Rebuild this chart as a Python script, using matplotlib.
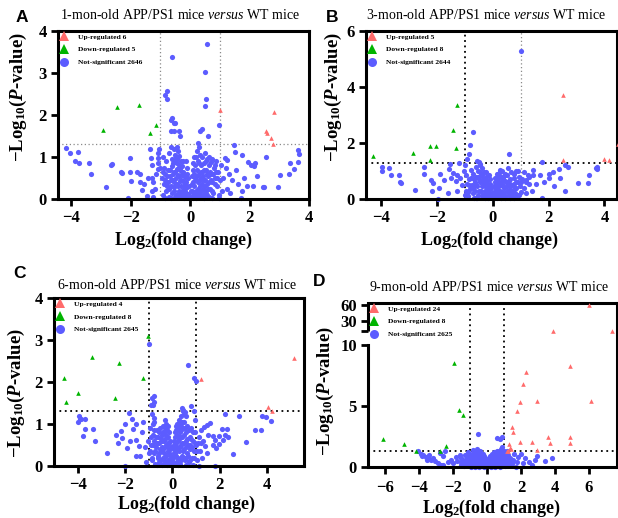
import numpy as np
import matplotlib.pyplot as plt
from matplotlib.lines import Line2D

plt.rcParams['font.family'] = ['Liberation Serif', 'DejaVu Serif']
plt.rcParams['font.weight'] = 'bold'
plt.rcParams['mathtext.fontset'] = 'custom'
plt.rcParams['mathtext.rm'] = 'Liberation Serif:weight=bold'
plt.rcParams['mathtext.it'] = 'Liberation Serif:style=italic:weight=bold'
plt.rcParams['mathtext.bf'] = 'Liberation Serif:weight=bold'
plt.rcParams['mathtext.sf'] = 'Liberation Serif:style=italic:weight=normal'

BLUE = '#5c5cff'
RED = '#ff6b6b'
GREEN = '#00b400'

# ---- data (log2 fold change, -log10 p) ----
titles = ['1-mon-old APP/PS1 mice $\\mathsf{versus}$ WT mice',
          '3-mon-old APP/PS1 mice $\\mathsf{versus}$ WT mice',
          '6-mon-old APP/PS1 mice $\\mathsf{versus}$ WT mice',
          '9-mon-old APP/PS1 mice $\\mathsf{versus}$ WT mice']
letters = ['A', 'B', 'C', 'D']
legend_a = ['Up-regulated 6', 'Down-regulated 5', 'Not-significant 2646']
legend_b = ['Up-regulated 5', 'Down-regulated 8', 'Not-significant 2644']
legend_c = ['Up-regulated 4', 'Down-regulated 8', 'Not-significant 2645']
legend_d = ['Up-regulated 24', 'Down-regulated 8', 'Not-significant 2625']

up_a = [(1.0, 2.11), (2.82, 2.08), (2.55, 1.62), (2.57, 1.58), (2.73, 1.45), (2.80, 1.31)]
down_a = [(-2.48, 2.18), (-1.73, 2.24), (-2.94, 1.65), (-1.16, 1.76), (-1.35, 1.58)]
ns_a = [
    (0.58, 3.69), (-0.62, 3.39), (0.50, 3.02), (-0.79, 2.57), (-0.84, 2.47), (-0.78, 2.38), (0.54, 2.38),
    (0.50, 2.22), (-0.60, 1.94), (-0.63, 1.88), (-0.52, 1.80), (-0.56, 1.80), (-0.65, 1.63), (-0.56, 1.63),
    (-0.39, 1.61), (0.39, 1.67), (0.34, 1.61), (0.61, 1.51), (-0.34, 1.49), (0.97, 1.76), (0.25, 1.33),
    (1.46, 1.28), (1.51, 1.12), (1.76, 1.04), (1.17, 0.97), (1.23, 0.93), (1.96, 0.87), (2.18, 0.86),
    (2.14, 0.78), (2.05, 0.80), (2.54, 1.0), (3.63, 1.16), (3.67, 1.08), (3.63, 0.88), (3.36, 0.86),
    (3.5, 0.71), (3.31, 0.59), (3.02, 0.58), (2.97, 0.29), (2.48, 0.29), (2.45, 0.29), (1.71, 0.02),
    (0.97, 0.02), (1.3, 0.6), (1.4, 0.45), (1.1, 0.5), (1.25, 0.25), (1.55, 0.7), (1.6, 0.35), (1.8, 0.5),
    (1.75, 0.2), (1.9, 0.3), (2.25, 0.55), (2.1, 0.3), (1.35, 0.15), (1.2, 0.75),
    (-4.19, 1.22), (-4.03, 1.10), (-3.77, 1.12), (-3.88, 0.90), (-3.75, 0.86), (-3.39, 0.86), (-3.33, 0.59),
    (-2.83, 0.29), (-2.68, 0.80), (-2.63, 0.84), (-2.33, 0.65), (-2.31, 0.61), (-2.04, 0.98), (-2.04, 0.65),
    (-2.0, 0.43), (-2.09, 0.02), (-1.8, 0.64), (-1.69, 0.59), (-1.68, 0.41), (-1.63, 0.22), (-1.34, 1.2),
    (-1.32, 0.98), (-1.29, 0.82), (-1.42, 0.49), (-1.29, 0.49), (-1.24, 0.41), (-1.05, 1.2), (-1.07, 1.1),
    (-1.08, 0.98), (-1.1, 0.85), (-1.08, 0.72), (-1.2, 0.25), (-1.3, 0.18), (-1.45, 0.08), (-1.55, 0.35),
    (-1.15, 0.6), (-1.25, 0.05),
    (-0.04, 0.02), (-0.08, 0.12), (-0.1, 0.28), (-0.13, 0.06), (-0.14, 0.4), (-0.16, 0.2), (-0.18, 0.52),
    (-0.2, 0.32), (-0.21, 0.08), (-0.23, 0.64), (-0.25, 0.44), (-0.26, 0.18), (-0.28, 0.78), (-0.29, 0.56),
    (-0.3, 0.3), (-0.32, 0.9), (-0.33, 0.05), (-0.34, 0.68), (-0.35, 0.42), (-0.37, 1.02), (-0.38, 0.82),
    (-0.39, 0.2), (-0.4, 0.58), (-0.42, 1.14), (-0.43, 0.95), (-0.44, 0.36), (-0.46, 0.72), (-0.48, 0.1),
    (-0.49, 0.5), (-0.5, 0.88), (-0.52, 1.05), (-0.53, 0.28), (-0.55, 0.65), (-0.58, 0.45), (-0.6, 0.95),
    (-0.6, 0.15), (-0.62, 0.78), (-0.65, 0.3), (-0.67, 0.55), (-0.7, 1.1), (-0.72, 0.05), (-0.74, 0.7),
    (-0.76, 0.4), (-0.8, 0.9), (-0.82, 0.2), (-0.85, 0.6), (-0.88, 0.35), (-0.9, 1.0), (-0.93, 0.1),
    (-0.96, 0.5), (-1.0, 0.75), (-0.45, 1.25), (-0.55, 1.2), (-0.66, 1.25), (-0.3, 0.1), (-0.5, 0.05),
    (-0.2, 0.02), (-0.65, 0.02), (-0.85, 0.02),
    (0.04, 0.05), (0.07, 0.2), (0.09, 0.4), (0.11, 0.1), (0.12, 0.6), (0.14, 0.3), (0.15, 0.8), (0.17, 0.5),
    (0.18, 0.02), (0.19, 1.0), (0.2, 0.2), (0.22, 0.7), (0.23, 1.15), (0.25, 0.4), (0.26, 0.9), (0.28, 0.1),
    (0.29, 1.25), (0.3, 0.6), (0.32, 1.05), (0.33, 0.3), (0.35, 0.8), (0.37, 0.5), (0.38, 0.05), (0.4, 1.0),
    (0.41, 0.65), (0.43, 0.25), (0.45, 0.85), (0.47, 0.45), (0.5, 1.1), (0.52, 0.15), (0.54, 0.7),
    (0.56, 0.35), (0.58, 0.95), (0.6, 0.55), (0.63, 0.05), (0.65, 0.8), (0.67, 0.25), (0.7, 0.6),
    (0.73, 0.95), (0.75, 0.4), (0.78, 0.15), (0.8, 0.75), (0.84, 0.5), (0.88, 0.9), (0.9, 0.3), (0.93, 0.65),
    (0.97, 0.1), (1.02, 0.45), (1.05, 0.8), (1.08, 0.2), (0.62, 1.0), (0.7, 0.88), (0.85, 0.8), (0.3, 0.15),
    (0.5, 0.3), (0.1, 0.02), (0.45, 0.02), (0.75, 0.02),
]
core_a = [
    (-0.05, 0.3), (-0.07, 0.5), (-0.1, 0.6), (-0.12, 0.75), (-0.15, 0.9), (-0.17, 0.05), (-0.19, 0.35),
    (-0.22, 0.25), (-0.24, 0.9), (-0.27, 0.6), (-0.31, 0.45), (-0.33, 0.75), (-0.36, 0.55), (-0.41, 0.3),
    (-0.44, 0.85), (-0.47, 1.0), (-0.51, 0.65), (-0.54, 0.4), (-0.57, 0.85), (-0.59, 0.6), (-0.63, 0.45),
    (-0.68, 0.7), (-0.71, 0.25), (-0.77, 0.55), (-0.79, 0.3), (-0.84, 0.45), (-0.87, 0.75), (-0.92, 0.65),
    (-0.25, 0.12), (-0.4, 0.12), (-0.55, 0.2), (-0.15, 0.12),
    (0.03, 0.2), (0.05, 0.35), (0.06, 0.55), (0.08, 0.7), (0.1, 0.85), (0.13, 1.0), (0.16, 0.15),
    (0.21, 0.45), (0.24, 0.55), (0.27, 0.25), (0.31, 0.85), (0.34, 0.45), (0.36, 0.65), (0.39, 0.35),
    (0.42, 0.1), (0.44, 0.55), (0.46, 0.7), (0.49, 0.2), (0.51, 0.45), (0.53, 0.9), (0.57, 0.6), (0.59, 0.25),
    (0.62, 0.4), (0.66, 0.65), (0.69, 0.45), (0.72, 0.2), (0.77, 0.6), (0.82, 0.35), (0.86, 0.65),
    (0.91, 0.5), (0.2, 0.05), (0.35, 0.2), (0.55, 0.1),
]

up_b = [(2.5, 3.70), (2.51, 1.39), (3.97, 1.43), (4.18, 1.38), (4.47, 1.95)]
down_b = [(-4.30, 1.52), (-2.87, 1.65), (-2.27, 1.91), (-2.04, 1.88), (-2.27, 1.40), (-1.44, 2.48),
          (-1.29, 3.37), (-1.31, 1.82)]
ns_b = [
    (1.0, 5.28), (-0.71, 2.38), (-0.83, 1.94), (-0.87, 1.62), (-0.93, 1.44), (0.57, 1.62), (1.75, 1.32),
    (2.58, 1.23), (2.70, 1.15), (2.36, 1.06), (3.73, 1.15), (3.73, 1.06), (3.70, 1.10), (3.43, 0.87),
    (3.05, 0.58), (3.40, 0.58), (2.57, 0.28), (2.0, 0.88), (2.0, 0.75), (1.68, 0.87), (2.15, 0.95),
    (2.4, 0.75), (1.45, 1.02), (1.3, 0.8), (1.2, 0.6), (1.55, 0.55), (1.85, 0.6), (1.1, 0.95), (0.9, 1.0),
    (0.75, 0.9), (1.0, 0.6), (1.75, 0.02), (1.4, 0.3), (2.2, 0.45), (0.53, 1.1), (0.82, 1.0), (1.26, 0.86),
    (1.44, 0.86), (1.2, 0.67),
    (-3.98, 1.15), (-3.98, 1.0), (-3.71, 1.12), (-3.65, 0.87), (-3.36, 0.87), (-3.30, 0.58), (-3.32, 0.61),
    (-2.81, 0.32), (-2.48, 1.15), (-2.46, 0.9), (-2.21, 0.67), (-2.15, 0.58), (-1.91, 0.90), (-1.74, 0.67),
    (-1.94, 0.41), (-1.97, 0.0), (-1.56, 1.08), (-1.43, 0.94), (-1.50, 0.76), (-1.34, 0.63), (-1.27, 0.87),
    (-1.17, 0.76), (-1.55, 1.25), (-1.2, 1.3), (-1.0, 1.2), (-1.05, 1.0), (-1.1, 0.5), (-1.3, 0.3),
    (-1.6, 0.2), (-2.2, 0.3), (-1.0, 0.15), (-0.51, 1.32), (-0.48, 1.25), (-0.56, 1.36),
    (-0.05, 0.03), (-0.08, 0.15), (-0.1, 0.35), (-0.12, 0.08), (-0.15, 0.5), (-0.17, 0.25), (-0.2, 0.65),
    (-0.22, 0.4), (-0.24, 0.1), (-0.26, 0.8), (-0.28, 0.55), (-0.3, 0.3), (-0.32, 0.95), (-0.34, 0.7),
    (-0.36, 0.15), (-0.38, 1.1), (-0.4, 0.45), (-0.42, 0.85), (-0.45, 1.2), (-0.47, 0.6), (-0.5, 0.3),
    (-0.52, 1.0), (-0.55, 0.8), (-0.57, 0.05), (-0.6, 0.5), (-0.62, 1.15), (-0.65, 0.3), (-0.68, 0.7),
    (-0.7, 0.9), (-0.73, 0.2), (-0.76, 0.5), (-0.8, 1.05), (-0.82, 0.35), (-0.85, 0.7), (-0.88, 0.1),
    (-0.92, 0.55), (-0.95, 0.85), (-0.98, 0.3), (-0.6, 0.02), (-0.3, 0.02),
    (0.04, 0.1), (0.06, 0.3), (0.08, 0.02), (0.1, 0.5), (0.12, 0.2), (0.14, 0.7), (0.16, 0.4), (0.18, 0.9),
    (0.2, 0.1), (0.22, 0.6), (0.24, 1.05), (0.26, 0.3), (0.28, 0.8), (0.3, 0.05), (0.32, 0.5), (0.34, 1.0),
    (0.36, 0.2), (0.38, 0.7), (0.4, 0.4), (0.42, 0.9), (0.45, 0.1), (0.47, 0.6), (0.5, 0.3), (0.52, 0.85),
    (0.55, 0.5), (0.58, 0.15), (0.6, 0.7), (0.63, 0.35), (0.66, 0.95), (0.7, 0.5), (0.73, 0.2), (0.76, 0.75),
    (0.8, 0.4), (0.84, 0.6), (0.88, 0.15), (0.92, 0.8), (0.96, 0.45), (1.0, 0.25), (1.05, 0.7), (1.1, 0.4),
    (1.2, 0.2), (1.3, 0.55), (0.15, 0.02), (0.45, 0.02), (0.75, 0.02),
]
core_b = [
    (-0.04, 0.2), (-0.06, 0.4), (-0.09, 0.55), (-0.11, 0.7), (-0.14, 0.85), (-0.18, 0.05), (-0.21, 0.2),
    (-0.23, 0.95), (-0.27, 0.45), (-0.31, 0.7), (-0.33, 0.15), (-0.37, 0.6), (-0.39, 0.85), (-0.43, 0.3),
    (-0.46, 0.95), (-0.49, 0.7), (-0.53, 0.15), (-0.56, 0.45), (-0.59, 0.8), (-0.64, 0.6), (-0.67, 0.05),
    (-0.72, 0.4), (-0.78, 0.75), (-0.84, 0.5), (-0.9, 0.25), (-0.15, 0.15), (-0.4, 0.1),
    (0.03, 0.2), (0.05, 0.45), (0.07, 0.6), (0.09, 0.75), (0.11, 0.35), (0.13, 0.9), (0.17, 0.6),
    (0.19, 0.25), (0.21, 0.8), (0.23, 0.45), (0.27, 0.95), (0.29, 0.6), (0.31, 0.25), (0.35, 0.8),
    (0.37, 0.45), (0.41, 0.15), (0.43, 0.65), (0.46, 0.85), (0.49, 0.45), (0.53, 0.25), (0.57, 0.65),
    (0.61, 0.5), (0.65, 0.1), (0.69, 0.3), (0.74, 0.55), (0.78, 0.2), (0.83, 0.4), (0.9, 0.6), (0.95, 0.15),
    (0.25, 0.1), (0.6, 0.05),
]

up_c = [(5.12, 2.58), (1.21, 2.06), (4.02, 1.41), (4.21, 1.32)]
down_c = [(-4.59, 2.09), (-4.5, 1.53), (-3.98, 1.75), (-3.4, 2.59), (-2.27, 2.46), (-2.41, 1.62),
          (-1.25, 2.10), (-1.04, 3.10)]
ns_c = [
    (-0.97, 2.90), (0.67, 2.40), (0.92, 2.09), (0.98, 2.03), (-0.8, 1.67), (-0.85, 1.61), (-0.78, 1.53),
    (-0.9, 1.46), (-0.82, 1.46), (0.39, 1.38), (0.46, 1.33), (0.53, 1.29), (0.78, 1.42), (-1.82, 1.26),
    (2.22, 1.25),
    (-3.96, 1.19), (-3.92, 1.13), (-3.86, 1.11), (-3.97, 1.05), (-3.71, 1.11), (-3.68, 0.87), (-3.36, 0.87),
    (-3.79, 0.71), (-3.29, 0.59), (-2.77, 0.31), (-2.17, 0.83), (-1.99, 0.99), (-2.13, 0.67), (-1.78, 0.59),
    (-1.72, 1.11), (-1.52, 0.99), (-1.65, 0.87), (-1.94, 0.43), (-1.55, 0.63), (-1.41, 0.47), (-1.52, 0.23),
    (-1.99, 0.0), (-2.4, 0.75), (-2.3, 0.55), (-1.3, 0.8), (-1.25, 1.05), (-1.35, 0.25),
    (1.34, 0.93), (1.45, 0.97), (1.59, 1.03), (1.73, 0.71), (1.8, 0.63), (1.69, 0.51), (1.38, 0.47),
    (1.45, 0.31), (2.29, 0.89), (2.08, 0.87), (1.98, 0.71), (2.22, 0.74), (1.84, 0.43), (2.82, 1.19),
    (3.10, 0.57), (3.5, 0.85), (3.72, 0.85), (3.76, 1.18), (3.96, 1.16), (4.15, 1.07), (2.57, 0.29),
    (2.33, 0.69), (2.12, 0.61), (1.98, 0.53), (1.81, 0.0), (1.13, 0.0), (1.3, 0.6), (1.5, 0.75), (1.2, 0.85),
    (-0.04, 0.05), (-0.07, 0.2), (-0.1, 0.4), (-0.12, 0.1), (-0.14, 0.55), (-0.16, 0.3), (-0.18, 0.7),
    (-0.2, 0.15), (-0.22, 0.85), (-0.24, 0.45), (-0.26, 1.0), (-0.28, 0.25), (-0.3, 0.65), (-0.32, 1.1),
    (-0.34, 0.05), (-0.36, 0.8), (-0.38, 0.4), (-0.4, 0.95), (-0.42, 0.2), (-0.44, 0.6), (-0.46, 0.75),
    (-0.5, 0.35), (-0.52, 0.9), (-0.55, 0.1), (-0.58, 0.55), (-0.6, 0.7), (-0.63, 0.25), (-0.66, 0.85),
    (-0.7, 0.45), (-0.73, 0.05), (-0.76, 0.6), (-0.8, 0.3), (-0.84, 0.75), (-0.88, 0.15), (-0.92, 0.5),
    (-0.96, 0.9), (-1.0, 0.3), (-1.05, 0.6), (-1.1, 0.1), (-1.15, 0.45), (-0.83, 1.0), (-0.8, 1.15),
    (-0.85, 1.25), (-0.78, 1.05), (-0.45, 0.02), (-0.25, 0.02), (-0.65, 0.02),
    (0.04, 0.1), (0.06, 0.3), (0.08, 0.5), (0.1, 0.05), (0.12, 0.7), (0.14, 0.25), (0.16, 0.85), (0.18, 0.45),
    (0.2, 1.0), (0.22, 0.15), (0.24, 0.6), (0.26, 1.1), (0.28, 0.35), (0.3, 0.8), (0.32, 0.05), (0.34, 0.95),
    (0.36, 0.5), (0.38, 1.2), (0.4, 0.25), (0.42, 0.7), (0.45, 0.9), (0.48, 0.4), (0.5, 1.05), (0.52, 0.15),
    (0.55, 0.6), (0.58, 0.8), (0.6, 0.3), (0.63, 0.95), (0.66, 0.5), (0.7, 0.1), (0.73, 0.7), (0.76, 0.4),
    (0.8, 0.9), (0.84, 0.2), (0.88, 0.6), (0.92, 0.35), (0.96, 0.8), (1.0, 0.5), (1.05, 0.15), (1.1, 0.7),
    (1.15, 0.35), (1.2, 0.55), (1.25, 0.2), (0.45, 1.3), (0.5, 1.25), (0.55, 1.2), (0.95, 1.1), (0.9, 1.3),
    (0.25, 0.02), (0.55, 0.02), (0.85, 0.02),
]
core_c = [
    (-0.05, 0.25), (-0.08, 0.45), (-0.11, 0.6), (-0.13, 0.8), (-0.17, 0.95), (-0.19, 0.35), (-0.21, 0.55),
    (-0.23, 0.05), (-0.27, 0.75), (-0.29, 0.5), (-0.31, 0.9), (-0.35, 0.3), (-0.37, 0.6), (-0.41, 0.8),
    (-0.43, 0.45), (-0.47, 0.15), (-0.49, 0.65), (-0.53, 0.4), (-0.57, 0.8), (-0.61, 0.2), (-0.64, 0.55),
    (-0.68, 0.7), (-0.72, 0.35), (-0.78, 0.85), (-0.82, 0.5), (-0.86, 0.2), (-0.9, 0.7), (-0.94, 0.35),
    (-0.3, 0.12), (-0.55, 0.3),
    (0.03, 0.2), (0.05, 0.4), (0.07, 0.6), (0.09, 0.8), (0.11, 0.3), (0.13, 0.95), (0.15, 0.55), (0.17, 0.1),
    (0.19, 0.75), (0.21, 0.4), (0.23, 0.9), (0.25, 0.2), (0.27, 0.65), (0.29, 1.0), (0.31, 0.45), (0.33, 0.7),
    (0.35, 0.15), (0.37, 0.85), (0.39, 0.55), (0.41, 1.05), (0.43, 0.35), (0.47, 0.75), (0.49, 0.55),
    (0.51, 0.2), (0.54, 0.9), (0.57, 0.45), (0.61, 0.65), (0.65, 0.25), (0.68, 0.85), (0.72, 0.5),
    (0.75, 0.15), (0.79, 0.65), (0.83, 0.45), (0.87, 0.8), (0.91, 0.2), (0.95, 0.55), (1.02, 0.35),
    (1.08, 0.55),
]

up_d = [(6.0, 60.0), (3.9, 10.3), (7.35, 10.1), (4.88, 8.28), (2.27, 7.77), (2.1, 6.81), (1.92, 5.29),
        (1.78, 4.55), (2.92, 5.45), (6.12, 5.37), (1.5, 3.3), (1.55, 2.83), (1.94, 2.04), (2.63, 2.04),
        (3.61, 2.48), (3.73, 1.93), (4.88, 2.48), (4.88, 1.93), (1.29, 1.88), (1.35, 1.55), (2.92, 1.36),
        (1.25, 1.28), (1.40, 1.45), (1.18, 1.32)]
down_d = [(-6.1, 2.32), (-4.9, 1.91), (-4.18, 1.28), (-2.76, 1.28), (-2.4, 1.69), (-1.92, 8.56),
          (-1.63, 4.69), (-1.39, 4.28)]
ns_d = [
    (-0.51, 2.7), (0.57, 2.37), (0.86, 2.45), (0.75, 2.29),
    (-4.04, 1.28), (-3.9, 1.1), (-3.75, 1.0), (-3.6, 0.85), (-3.46, 0.74), (-3.3, 0.6), (-3.2, 0.75),
    (-3.07, 0.47), (-2.9, 0.35), (-2.77, 1.14), (-2.58, 0.2), (-2.48, 1.28), (-2.6, 0.9), (-3.8, 0.9),
    (-3.4, 0.95), (-2.3, 0.4), (-2.1, 0.6), (-2.0, 0.3), (-1.8, 0.85), (-1.75, 0.5), (-1.6, 1.0),
    (-1.55, 0.2), (-3.55, 0.55), (-2.7, 0.15),
    (2.92, 0.92), (3.42, 0.47), (3.81, 0.74), (2.26, 0.74), (2.45, 0.45), (2.65, 0.2), (2.0, 1.05),
    (1.85, 0.8), (1.75, 0.4), (1.6, 1.1), (1.55, 0.6), (1.45, 0.25), (2.1, 0.3), (2.8, 0.6), (1.7, 0.02),
    (-0.05, 0.05), (-0.1, 0.2), (-0.15, 0.4), (-0.18, 0.1), (-0.2, 0.6), (-0.25, 0.3), (-0.28, 0.8),
    (-0.3, 0.05), (-0.33, 0.5), (-0.36, 1.0), (-0.4, 0.2), (-0.43, 0.7), (-0.46, 1.2), (-0.5, 0.4),
    (-0.53, 0.9), (-0.56, 0.1), (-0.6, 0.6), (-0.63, 1.1), (-0.66, 0.3), (-0.7, 0.8), (-0.75, 1.3),
    (-0.78, 0.5), (-0.82, 0.15), (-0.86, 0.95), (-0.9, 0.4), (-0.95, 0.7), (-1.0, 1.1), (-1.05, 0.2),
    (-1.1, 0.55), (-1.15, 0.85), (-1.2, 0.3), (-1.3, 0.6), (-1.35, 0.1), (-1.4, 0.4), (-1.5, 0.7),
    (-0.6, 1.5), (-0.8, 1.4), (-0.2, 0.02), (-0.45, 0.02), (-0.7, 0.02), (-0.95, 0.02),
    (0.05, 0.1), (0.1, 0.3), (0.14, 0.05), (0.18, 0.5), (0.22, 0.2), (0.25, 0.75), (0.28, 0.4), (0.32, 1.0),
    (0.35, 0.1), (0.38, 0.6), (0.42, 1.2), (0.45, 0.3), (0.5, 0.85), (0.53, 0.05), (0.56, 0.5), (0.6, 1.1),
    (0.64, 0.25), (0.68, 0.7), (0.72, 1.35), (0.76, 0.4), (0.8, 0.95), (0.84, 0.15), (0.88, 0.6),
    (0.92, 1.2), (0.96, 0.35), (1.0, 0.8), (1.05, 0.1), (1.1, 0.5), (1.15, 1.0), (1.2, 0.3), (1.25, 0.7),
    (1.3, 0.15), (1.4, 0.45), (0.8, 1.5), (0.9, 1.6), (0.25, 0.02), (0.5, 0.02), (0.75, 0.02),
]
core_d = [
    (-0.04, 0.3), (-0.07, 0.5), (-0.12, 0.7), (-0.16, 0.9), (-0.22, 0.45), (-0.26, 1.05), (-0.3, 0.65),
    (-0.34, 0.25), (-0.38, 0.85), (-0.42, 0.45), (-0.48, 1.0), (-0.52, 0.65), (-0.58, 0.3), (-0.62, 0.85),
    (-0.68, 0.55), (-0.72, 1.05), (-0.8, 0.7), (-0.85, 0.3), (-0.92, 1.0), (-0.98, 0.5), (-1.05, 0.8),
    (-1.12, 0.15), (-1.2, 0.65), (-1.28, 0.95), (-1.35, 0.5), (-1.45, 0.2), (-1.55, 0.45), (-0.4, 1.3),
    (-0.55, 1.25), (-1.1, 1.2),
    (0.04, 0.25), (0.08, 0.5), (0.12, 0.7), (0.16, 0.35), (0.2, 0.9), (0.24, 0.55), (0.28, 1.05), (0.32, 0.3),
    (0.36, 0.8), (0.4, 0.5), (0.44, 0.95), (0.48, 0.2), (0.52, 0.65), (0.58, 0.85), (0.62, 0.45), (0.66, 1.0),
    (0.7, 0.2), (0.75, 0.65), (0.8, 0.3), (0.85, 0.85), (0.9, 0.5), (0.95, 1.05), (1.02, 0.3), (1.08, 0.75),
    (1.15, 0.5), (1.22, 0.95), (1.3, 0.4), (1.38, 0.7), (1.5, 0.3), (1.0, 1.3), (1.15, 1.35), (0.6, 1.3),
]

W, H = 618, 518
fig = plt.figure(figsize=(W / 100, H / 100), dpi=100)


def add_ax(l, t, r, b):
    return fig.add_axes([l / W, 1 - b / H, (r - l) / W, (b - t) / H])


def ftext(x, y, s, **kw):
    fig.text(x / W, 1 - y / H, s, ha='center', va='center', **kw)


def draw_panel(ax, ns, core, up, down, labels, xlim, xticks, guides):
    ax.scatter(*zip(*(ns + core)), s=14, color=BLUE, lw=0, zorder=2, clip_on=False)
    ax.scatter(*zip(*down), marker='^', s=11, color=GREEN, lw=0, zorder=3, clip_on=False)
    ax.scatter(*zip(*up), marker='^', s=11, color=RED, lw=0, zorder=3, clip_on=False)
    (hc, hlw), (lc, llw), (rc, rlw) = guides
    ax.axhline(1.3, color=hc, lw=hlw, ls=(0, (1, 2)), zorder=1)
    ax.axvline(-1, color=lc, lw=llw, ls=(0, (1, 2)), zorder=1)
    ax.axvline(1, color=rc, lw=rlw, ls=(0, (1, 2)), zorder=1)
    ax.set_xlim(*xlim)
    ax.set_xticks(xticks)
    for sp in ax.spines.values():
        sp.set_linewidth(2.2)
    ax.tick_params(width=2, length=5, labelsize=12, pad=3)
    handles = [Line2D([], [], ls='none', marker='^', ms=6.5, color=RED, mew=0),
               Line2D([], [], ls='none', marker='^', ms=6.5, color=GREEN, mew=0),
               Line2D([], [], ls='none', marker='o', ms=6.5, color=BLUE, mew=0)]
    ax.legend(handles, labels, loc='upper left', frameon=False, fontsize=5.4,
              handlelength=1.0, handletextpad=1.3, labelspacing=0.85,
              borderaxespad=0.15, borderpad=0.2)


black = ('black', 1.3)
grey = ('#8a8a8a', 0.9)

ax_a = add_ax(58, 31, 309, 199)
draw_panel(ax_a, ns_a, core_a, up_a, down_a, legend_a, (-4.45, 4.0), [-4, -2, 0, 2, 4], (grey, grey, grey))
ax_a.set_ylim(0, 4)
ax_a.set_yticks([0, 1, 2, 3, 4])

ax_b = add_ax(366, 31, 617, 199)
draw_panel(ax_b, ns_b, core_b, up_b, down_b, legend_b, (-4.55, 4.45), [-4, -2, 0, 2, 4], (black, black, grey))
ax_b.set_ylim(0, 6)
ax_b.set_yticks([0, 2, 4, 6])

ax_c = add_ax(54, 298, 304, 466)
draw_panel(ax_c, ns_c, core_c, up_c, down_c, legend_c, (-5.0, 5.55), [-4, -2, 0, 2, 4], (black, black, black))
ax_c.set_ylim(0, 4)
ax_c.set_yticks([0, 1, 2, 3, 4])


# panel D: two-segment y axis (0-10 linear below, 10-60 compressed above)
def seg_fwd(y):
    y = np.asarray(y, dtype=float)
    return np.where(y <= 10, y * 12.2, 136.0 + (y - 10) * 0.523)


def seg_inv(s):
    s = np.asarray(s, dtype=float)
    return np.where(s <= 122.0, s / 12.2, np.where(s < 136.0, 10.0, 10 + (s - 136.0) / 0.523))


ax_d = add_ax(368, 303, 617, 467)
ax_d.set_yscale('function', functions=(seg_fwd, seg_inv))
draw_panel(ax_d, ns_d, core_d, up_d, down_d, legend_d, (-7.0, 7.65), [-6, -4, -2, 0, 2, 4, 6],
           (black, black, black))
ax_d.set_ylim(0, 63.5)
ax_d.set_yticks([0, 5, 10, 10.001, 30, 60])
ax_d.set_yticklabels(['0', '5', '10', '', '30', '60'])
ax_d.tick_params(axis='x', pad=4.5)
ax_d.spines['left'].set_bounds(0, 10)
ax_d.plot([0, 0], [10.001, 63.5], transform=ax_d.get_yaxis_transform(), color='black', lw=2.2,
          clip_on=False, solid_capstyle='butt', zorder=5)

# titles, panel letters and axis labels
for (x, y), t in zip([(180, 15), (486, 15), (177, 285), (489, 287)], titles):
    ftext(x, y, t, fontsize=10, fontweight='normal')
for (x, y), t in zip([(22, 17), (332, 17), (20, 274), (319, 282)], letters):
    ftext(x, y, t, fontsize=12.5, fontweight='bold', family=['Liberation Sans', 'DejaVu Sans'])
ylab = '\u2212Log$_{10}$($P$-value)'
xlab = 'Log$_{2}$(fold change)'
for (x, y) in [(18, 97), (333, 97), (16, 393), (325, 391)]:
    ftext(x, y, ylab, fontsize=13.5, fontweight='bold', rotation=90)
for (x, y) in [(183, 240), (489, 240), (186, 504), (491, 508)]:
    ftext(x, y, xlab, fontsize=13, fontweight='bold')

fig.savefig('out.png', dpi=100)
